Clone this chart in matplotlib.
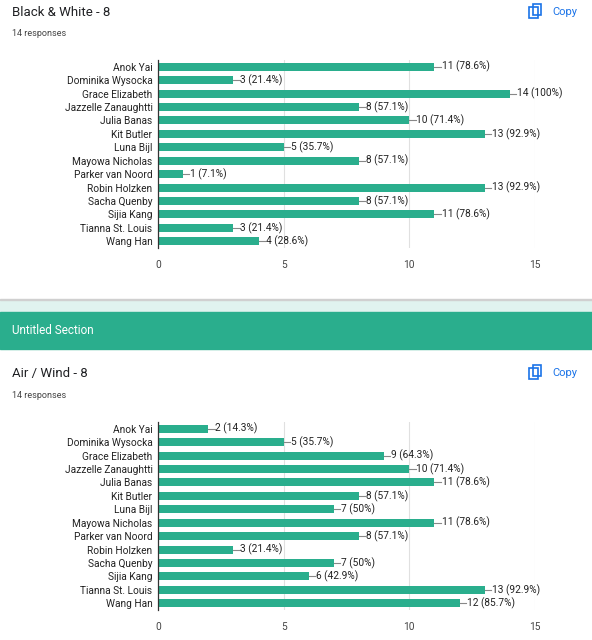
import matplotlib
matplotlib.use("Agg")
import matplotlib.pyplot as plt
from matplotlib.patches import Rectangle, FancyBboxPatch

plt.rcParams['font.family'] = ['Roboto', 'DejaVu Sans']

names = ["Anok Yai", "Dominika Wysocka", "Grace Elizabeth", "Jazzelle Zanaughtti",
         "Julia Banas", "Kit Butler", "Luna Bijl", "Mayowa Nicholas", "Parker van Noord",
         "Robin Holzken", "Sacha Quenby", "Sijia Kang", "Tianna St. Louis", "Wang Han"]
bw_values = [11, 3, 14, 8, 10, 13, 5, 8, 1, 13, 8, 11, 3, 4]
air_values = [2, 5, 9, 10, 11, 8, 7, 11, 8, 3, 7, 6, 13, 12]
total = 14
xticks = [0, 5, 10, 15]
GREEN = "#2aae8d"

fig = plt.figure(figsize=(5.92, 6.4), dpi=100)

def px(x, y):
    return x / 592, 1 - y / 640

def chart(values, top, bottom, title, ty):
    ax = fig.add_axes([158/592, 1-bottom/640, (535-158)/592, (bottom-top)/640])
    ys = range(len(names))
    ax.barh(ys, values, height=0.6, color=GREEN, zorder=3)
    for y, v in zip(ys, values):
        pct = v / total * 100
        s = f"{pct:.1f}".rstrip('0').rstrip('.')
        ax.plot([v, v + 0.25], [y, y], color="#888888", lw=0.8, zorder=3)
        ax.text(v + 0.28, y, f"{v} ({s}%)", va='center', ha='left', fontsize=7.3, color="#222222")
    ax.set_ylim(len(names) - 0.5, -0.5)
    ax.set_xlim(0, 15)
    ax.set_xticks(xticks)
    ax.set_xticklabels([str(t) for t in xticks], fontsize=7.3, color="#444444")
    ax.set_yticks(list(ys))
    ax.set_yticklabels(names, fontsize=7.3, color="#222222")
    ax.tick_params(length=0, pad=4)
    ax.tick_params(axis='x', pad=9)
    ax.grid(axis='x', color="#e0e0e0", lw=0.8, zorder=0)
    for sp in ['top', 'right', 'bottom']:
        ax.spines[sp].set_visible(False)
    ax.spines['left'].set_color("#333333")
    ax.spines['left'].set_linewidth(0.9)
    ax.spines['left'].set_zorder(4)
    fig.text(*px(12, ty), title, fontsize=9.5, color="#202124", va='center')
    fig.text(*px(12, ty + 22), "14 responses", fontsize=6.5, color="#444444", va='center')
    fig.text(*px(552, ty), "Copy", fontsize=8, color="#1a73e8", va='center')
    # copy icon
    fig.patches.append(Rectangle(px(529, ty + 6), 9/592, 11/640, fill=False, ec="#1a73e8", lw=1.2, transform=fig.transFigure))
    fig.patches.append(Rectangle(px(533, ty + 3), 8/592, 11/640, fill=False, ec="#1a73e8", lw=1.2, transform=fig.transFigure))

chart(bw_values, 60, 248, "Black & White - 8", 12)
chart(air_values, 422, 610, "Air / Wind - 8", 373)

fig.patches.append(Rectangle(px(0, 312), 1, 12/640, color="#e0f3ef", transform=fig.transFigure, zorder=0))
fig.patches.append(Rectangle(px(0, 300 + 0), 1, 1/640, color="#d0d0d0", transform=fig.transFigure, zorder=0))
fig.patches.append(Rectangle(px(0, 349), 1, 37/640, color=GREEN, transform=fig.transFigure, zorder=0))
fig.text(*px(12, 330), "Untitled Section", fontsize=8.5, color="white", va='center')

fig.savefig("out.png", dpi=100)
